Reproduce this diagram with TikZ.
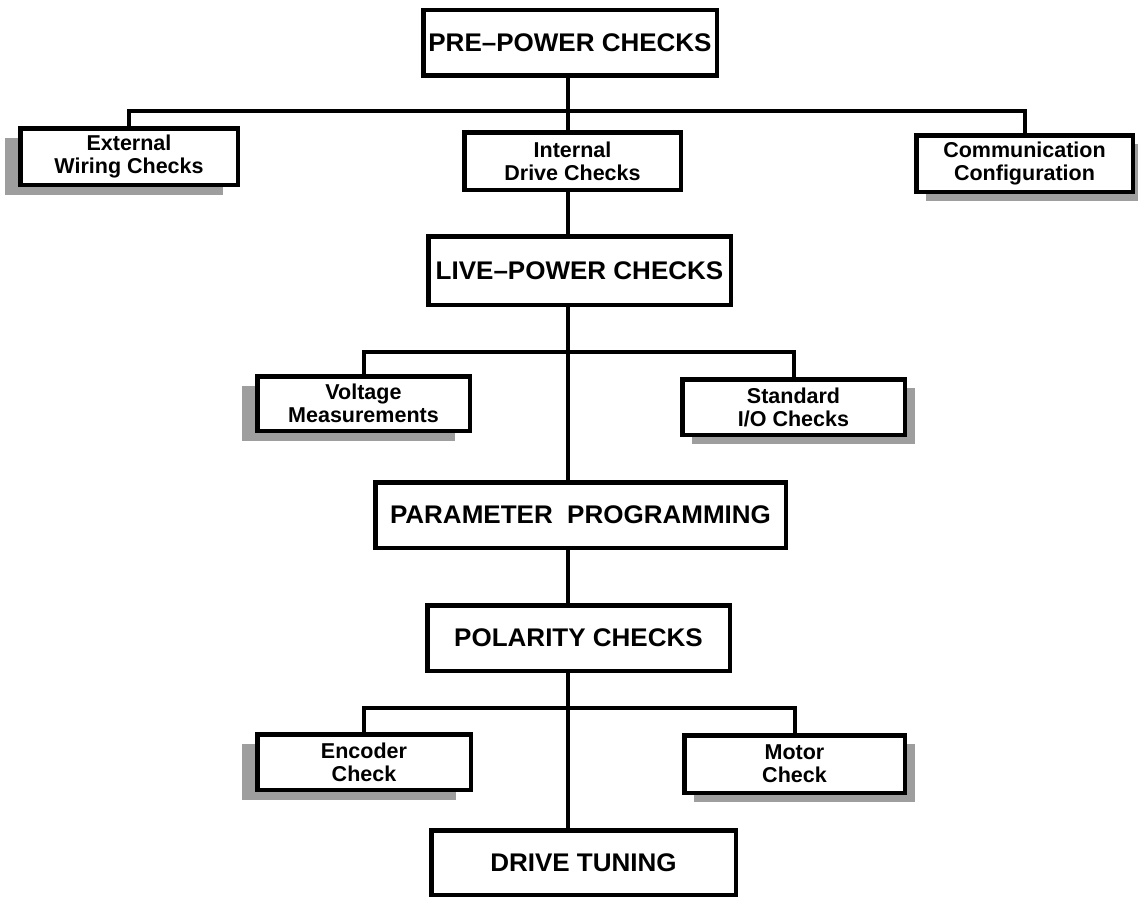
\documentclass[tikz,border=0pt]{standalone}
\usepackage{fontspec}
\setmainfont{Liberation Sans}
\newfontfamily\headfont{Liberation Sans}[FakeStretch=1.02]
\usetikzlibrary{shadows}
\begin{document}
\begin{tikzpicture}[x=1pt,y=-1pt,
  box/.style={draw=black, line width=4.5pt, fill=white, inner sep=0pt, align=center,
    font=\bfseries\fontsize{21.5}{23}\selectfont},
  headbox/.style={box, font=\headfont\bfseries\fontsize{25.5}{28}\selectfont},
  lshadow/.style={drop shadow={shadow xshift=-15pt, shadow yshift=-10pt, fill=black!38, opacity=1, draw=none}},
  rshadow/.style={drop shadow={shadow xshift=10pt, shadow yshift=-9pt, fill=black!38, opacity=1, draw=none}},
  conn/.style={line width=4pt}]
\useasboundingbox[fill=white] (0,0) rectangle (1138,899);

% main boxes
\node[headbox, minimum width=293.5pt, minimum height=65.5pt] (pre) at (570,43) {PRE–POWER CHECKS};
\node[headbox, minimum width=302.5pt, minimum height=68.5pt] (live) at (579.5,270.5) {LIVE–POWER CHECKS};
\node[headbox, minimum width=410.5pt, minimum height=65.5pt] (param) at (580.5,515) {PARAMETER\ \ PROGRAMMING};
\node[headbox, minimum width=302.5pt, minimum height=65.5pt] (pol) at (578.5,638) {POLARITY CHECKS};
\node[headbox, minimum width=304.5pt, minimum height=64.5pt] (drive) at (583.5,862.5) {DRIVE TUNING};

% sub boxes
\node[box, lshadow, minimum width=217.5pt, minimum height=56.5pt] (ext) at (129,156.5) {External\\Wiring Checks};
\node[box, minimum width=216.5pt, minimum height=57.5pt] (int) at (572.5,161) {Internal\\Drive Checks};
\node[box, rshadow, minimum width=216.5pt, minimum height=56.5pt] (comm) at (1024.5,163.5) {Communication\\Configuration};
\node[box, lshadow, minimum width=212.5pt, minimum height=54.5pt] (volt) at (363.5,403.5) {Voltage\\Measurements};
\node[box, rshadow, minimum width=222.5pt, minimum height=55.5pt] (std) at (793.5,407) {Standard\\I/O Checks};
\node[box, lshadow, minimum width=213.5pt, minimum height=55.5pt] (enc) at (364,762) {Encoder\\Check};
\node[box, rshadow, minimum width=220.5pt, minimum height=57.5pt] (mot) at (794.5,764) {Motor\\Check};

% spine
\coordinate (ax) at (568,0);
\draw[conn] (pre.south -| ax) -- (int.north -| ax);
\draw[conn] (int.south -| ax) -- (live.north -| ax);
\draw[conn] (live.south -| ax) -- (param.north -| ax);
\draw[conn] (param.south -| ax) -- (pol.north -| ax);
\draw[conn] (pol.south -| ax) -- (drive.north -| ax);

% branch bars
\coordinate (b1) at (568,111);
\coordinate (b2) at (568,352);
\coordinate (b3) at (568,708);
\draw[conn] (ext.north) |- (b1) -| (comm.north);
\draw[conn] (volt.north) |- (b2) -| (std.north);
\draw[conn] (enc.north) |- (b3) -| (mot.north);
\end{tikzpicture}
\end{document}
